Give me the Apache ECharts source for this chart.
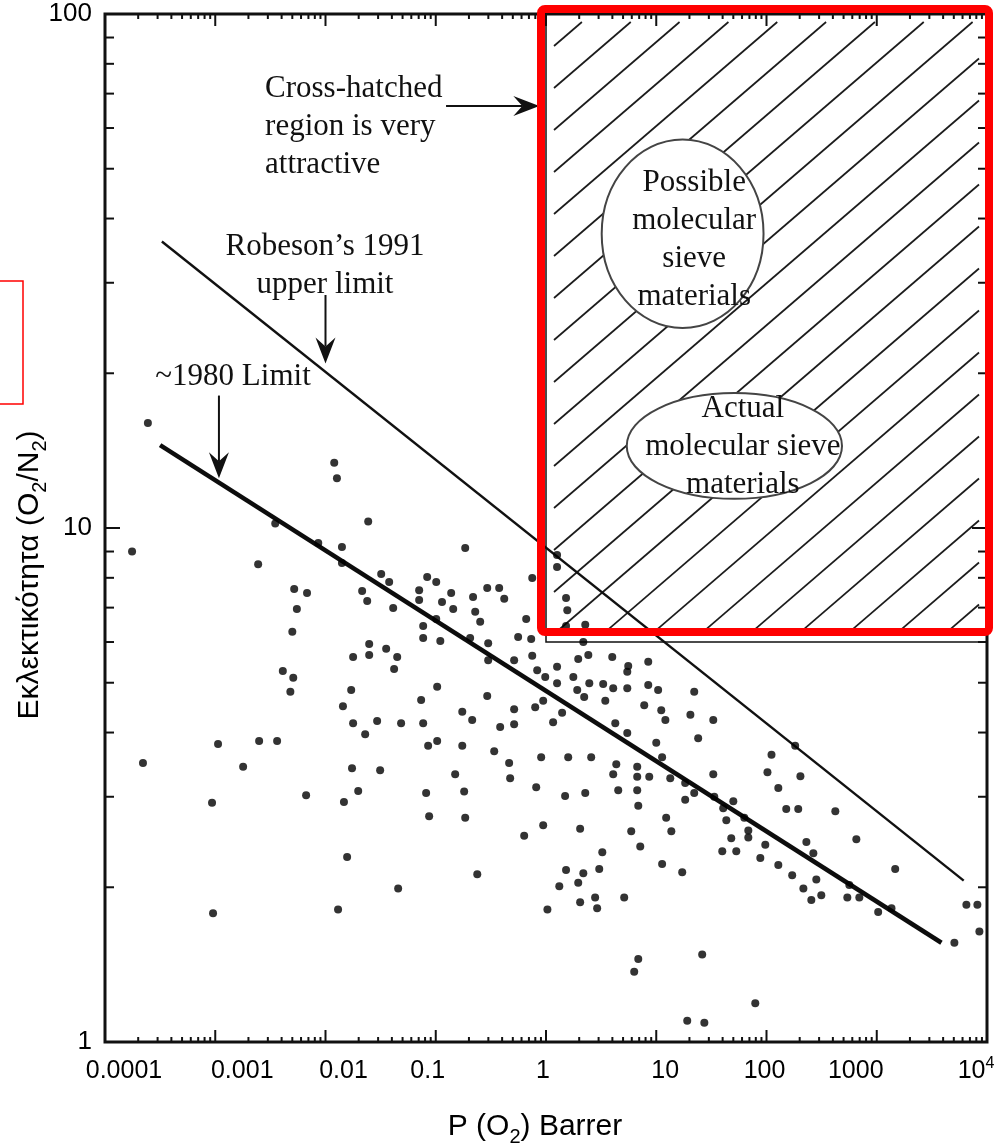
<!DOCTYPE html>
<html>
<head>
<meta charset="utf-8">
<script src="https://cdn.jsdelivr.net/npm/echarts@6/dist/echarts.min.js"></script>
<style>
  html, body { margin: 0; padding: 0; background: #fff; }
  #chart { width: 998px; height: 1147px; }
</style>
</head>
<body>
<div id="chart"></div>
<script>
// O2 permeability (Barrer) of each polymer
const permeability = [
  2.45e-4, 1.76e-4, 2.45e-3, 3.5e-3, 8.6e-3, 0.012, 0.0127, 0.0141, 0.0141, 5.2e-3,
  6.8e-3, 5.5e-3, 5.0e-3, 4.1e-3, 5.1e-3, 4.8e-3, 0.0244, 0.185, 0.032, 0.0378,
  0.0215, 0.0239, 0.0411, 0.0836, 0.101, 0.0707, 0.0707, 0.138, 0.114, 0.144,
  0.218, 0.228, 0.253, 0.293, 0.376, 0.418, 0.101, 0.0769, 0.0769, 0.110,
  0.205, 0.299, 0.299, 0.75, 0.661, 0.559, 0.734, 0.514, 0.75, 0.832,
  0.984, 1.26, 1.26, 1.26, 1.26, 1.52, 1.56, 1.52, 0.0249, 0.0249,
  0.0355, 0.0447, 0.0178, 0.0419, 0.0171, 0.103, 0.0737, 0.293, 0.0144, 0.514,
  0.798, 0.943, 1.40, 0.0178, 0.0294, 0.0485, 0.0229, 0.0769, 0.174, 0.214,
  0.514, 0.384, 1.16, 0.0853, 0.103, 0.174, 0.339, 0.904, 1.06e-3, 2.5e-3,
  3.64e-3, 2.21e-4, 1.79e-3, 0.0174, 0.0313, 9.35e-4, 6.67e-3, 0.0147, 0.0198, 0.0157,
  0.0456, 9.55e-4, 0.013, 0.463, 0.473, 1.59, 2.57, 4.34, 4.07, 4.52,
  6.72, 6.72, 6.72, 6.87, 0.150, 0.0818, 0.181, 0.0871, 0.185, 0.815,
  1.49, 2.27, 0.943, 0.634, 2.04, 5.93, 7.16, 3.24, 1.52, 2.18,
  3.04, 1.96, 1.32, 0.238, 2.04, 2.79, 2.91, 1.03, 5.12, 6.87,
  6.31, 2.27, 2.18, 1.96, 2.42, 3.99, 5.57, 5.46, 8.46, 1.77,
  1.92, 2.47, 2.22, 3.30, 4.07, 3.45, 5.46, 8.46, 10.4, 7.78,
  11.1, 12.1, 22.1, 20.4, 32.9, 24.0, 4.25, 5.46, 10.0, 11.3,
  8.64, 13.4, 18.3, 32.9, 22.1, 18.3, 33.6, 50, 40.5, 43.2,
  62.9, 68.4, 68.4, 47.9, 39.7, 53.2, 97.5, 87.9, 128, 111,
  102, 128, 12.3, 13.7, 11.3, 17.2, 26.1, 79.1, 19.1, 27.3,
  203, 151, 194, 421, 653, 1470, 230, 266, 171, 216,
  283, 314, 255, 564, 541, 695, 1030, 1360, 5060, 6500,
  8180, 8530, 182
];
// O2/N2 selectivity, same order
const selectivity = [
  16.0, 9.0, 8.5, 10.2, 9.35, 13.4, 12.5, 9.18, 8.55, 7.61,
  7.47, 6.96, 6.28, 5.27, 5.11, 4.80, 10.3, 9.14, 8.14, 7.85,
  7.54, 7.21, 6.99, 8.03, 7.85, 7.57, 7.24, 7.47, 7.18, 6.96,
  7.34, 6.87, 6.57, 7.64, 7.64, 7.28, 6.65, 6.45, 6.11, 6.03,
  6.11, 5.97, 5.53, 7.99, 6.65, 6.14, 6.08, 5.53, 5.64, 5.29,
  5.13, 5.37, 4.99, 8.86, 8.40, 7.31, 6.92, 6.45, 5.95, 5.66,
  5.82, 5.61, 5.61, 5.32, 4.84, 4.91, 4.63, 4.71, 4.50, 4.44,
  4.48, 4.61, 4.37, 4.17, 4.21, 4.17, 3.97, 4.17, 4.39, 4.23,
  4.15, 4.10, 4.19, 3.77, 3.85, 3.77, 3.68, 3.58, 3.80, 3.85,
  3.85, 3.49, 3.43, 3.41, 3.38, 2.92, 3.02, 2.93, 3.08, 2.29,
  1.99, 1.78, 1.81, 3.49, 3.26, 3.58, 3.58, 3.47, 3.32, 3.09,
  3.43, 3.28, 3.09, 2.88, 3.32, 3.05, 3.07, 2.75, 2.73, 3.13,
  3.01, 3.05, 2.64, 2.52, 2.60, 2.57, 2.40, 2.34, 2.16, 2.13,
  2.17, 2.04, 2.01, 2.12, 1.87, 1.91, 1.82, 1.81, 1.91, 1.45,
  1.37, 6.48, 6.00, 5.56, 5.66, 5.61, 5.39, 5.25, 5.49, 5.13,
  4.84, 4.99, 4.69, 4.97, 4.88, 4.61, 4.88, 4.95, 4.84, 4.52,
  4.42, 4.23, 4.80, 4.33, 4.23, 3.90, 4.17, 3.99, 3.82, 3.58,
  3.28, 3.26, 3.19, 3.32, 3.05, 2.96, 3.00, 2.94, 2.85, 2.70,
  2.73, 2.58, 2.50, 2.49, 2.35, 2.35, 2.42, 2.28, 2.21, 3.62,
  3.35, 3.12, 2.73, 2.57, 2.22, 2.14, 1.48, 1.19, 1.10, 1.09,
  3.29, 2.84, 2.84, 2.81, 2.48, 2.17, 2.45, 2.33, 2.11, 1.99,
  2.07, 1.93, 1.89, 2.02, 1.91, 1.91, 1.79, 1.82, 1.56, 1.85,
  1.85, 1.64, 3.77
];

// upper bound lines, [P, selectivity] end points
const limit1980 = [[3.16e-4, 14.5], [3860, 1.56]];
const robeson1991 = [[3.28e-4, 36.1], [6150, 2.06]];

// axis ticks
const xTicks = [1e-4, 1e-3, 0.01, 0.1, 1, 10, 100, 1000, 1e4];
const xTickLabels = ['0.0001', '0.001', '0.01', '0.1', '1', '10', '100', '1000', '10^4'];
const yTicks = [1, 10, 100];
const yTickLabels = ['1', '10', '100'];

// cross-hatched region (P, selectivity ranges)
const hatchP = [1, 1e4];
const hatchS = [6, 100];

// ellipses given by their P and selectivity ranges
const ellipseP = [[3.2, 94], [5.4, 484]];
const ellipseS = [[24.5, 57], [11.4, 18.3]];

// annotation texts and where they sit
const noteTexts = [
  'Cross-hatched\nregion is very\nattractive',
  'Robeson\u2019s 1991\nupper limit',
  '~1980 Limit',
  'Possible\nmolecular\nsieve\nmaterials',
  'Actual\nmolecular sieve\nmaterials'
];
const noteAt = [[2.83e-3, 60.3], [0.0099, 32.3], [1.45e-3, 19.7], [22.1, 36.3], [61, 14.4]];
const noteAlign = ['left', 'center', 'center', 'center', 'center'];

// arrows: from -> to
const arrows = [
  [[0.124, 66.2], [0.87, 66.2]],
  [[0.01, 28.4], [0.01, 20.9]],
  [[0.00108, 18.1], [0.00108, 12.5]]
];

// the x labels in the figure sit a little off their ticks (px, + = right)
const xLabelShift = [19, 27, 18, -8, -3, 9, -2, -21, -11];

const ink = '#111';
const serif = '"Liberation Serif", "Times New Roman", serif';
const sans = '"Liberation Sans", Arial, sans-serif';

let chart = echarts.init(document.getElementById('chart'));

function tickIndex(list, v) {
  return list.findIndex(t => Math.abs(Math.log10(t / v)) < 1e-6);
}

function arrowShape(a, b) {
  const dx = b[0] - a[0], dy = b[1] - a[1];
  const l = Math.sqrt(dx * dx + dy * dy);
  const ux = dx / l, uy = dy / l, px = -uy, py = ux;
  const len = 26, half = 10, notch = 9;
  const back = [b[0] - ux * len, b[1] - uy * len];
  const neck = [b[0] - ux * (len - notch), b[1] - uy * (len - notch)];
  return [
    { type: 'line', shape: { x1: a[0], y1: a[1], x2: neck[0], y2: neck[1] }, style: { stroke: ink, lineWidth: 2 } },
    {
      type: 'polygon',
      shape: { points: [b, [back[0] + px * half, back[1] + py * half], neck, [back[0] - px * half, back[1] - py * half]] },
      style: { fill: ink }
    }
  ];
}

const xLabelRich = {
  b: { fontSize: 25, fontFamily: sans, fill: '#000', lineHeight: 30 },
  sup: { fontSize: 16, fontFamily: sans, fill: '#000', lineHeight: 16, verticalAlign: 'top' }
};

// box ticks (decades long, 2..9 short) on all four sides, plus the x labels
function renderFrame(params, api) {
  const children = [];
  const bl = api.coord([xTicks[0], yTicks[0]]);
  const tr = api.coord([xTicks[xTicks.length - 1], yTicks[yTicks.length - 1]]);
  const tick = (x1, y1, x2, y2) => children.push({
    type: 'line', shape: { x1, y1, x2, y2 }, style: { stroke: ink, lineWidth: 2 }
  });
  xTicks.forEach((d, i) => {
    for (let m = 1; m <= 9; m++) {
      if (i === xTicks.length - 1 && m > 1) break;
      const x = api.coord([d * m, 1])[0];
      const len = m === 1 ? 12 : 5;
      tick(x, bl[1], x, bl[1] - len);
      tick(x, tr[1], x, tr[1] + len);
    }
    const s = xTickLabels[i];
    children.push({
      type: 'text',
      style: {
        text: s === '10^4' ? '{b|10}{sup|4}' : '{b|' + s + '}',
        x: api.coord([d, 1])[0] + xLabelShift[i], y: bl[1] + 14,
        align: 'center', verticalAlign: 'top', font: '25px ' + sans, fill: '#000',
        rich: xLabelRich
      }
    });
  });
  yTicks.forEach((d, i) => {
    for (let m = 1; m <= 9; m++) {
      if (i === yTicks.length - 1 && m > 1) break;
      const y = api.coord([1, d * m])[1];
      const len = m === 1 ? 15 : 9;
      tick(bl[0], y, bl[0] + len, y);
      tick(tr[0], y, tr[0] - len, y);
    }
  });
  return { type: 'group', children };
}

// hatched region with the two white ellipses on it
function renderHatch(params, api) {
  const children = [];
  const p0 = api.coord([hatchP[0], hatchS[1]]);
  const p1 = api.coord([hatchP[1], hatchS[0]]);
  const left = p0[0], top = p0[1], right = p1[0], bottom = p1[1];
  children.push({
    type: 'rect', shape: { x: left, y: top, width: right - left, height: bottom - top },
    style: { fill: 'none', stroke: ink, lineWidth: 1.5 }
  });
  const k = 0.86, inset = 8, step = 42;
  const L = left + inset, R = right - inset, T = top + inset, B = bottom - inset;
  for (let c = T + k * L + 24; c < B + k * R; c += step) {
    const x0 = Math.max(L, (c - B) / k);
    const x1 = Math.min(R, (c - T) / k);
    if (x1 - x0 < 6) continue;
    children.push({
      type: 'line', shape: { x1: x0, y1: c - k * x0, x2: x1, y2: c - k * x1 },
      style: { stroke: '#1c1c1c', lineWidth: 1.7 }
    });
  }
  ellipseP.forEach((pr, i) => {
    const a = api.coord([pr[0], ellipseS[i][1]]);
    const b = api.coord([pr[1], ellipseS[i][0]]);
    children.push({
      type: 'ellipse',
      shape: { cx: (a[0] + b[0]) / 2, cy: (a[1] + b[1]) / 2, rx: (b[0] - a[0]) / 2, ry: (b[1] - a[1]) / 2 },
      style: { fill: '#fff', stroke: '#444', lineWidth: 2 }
    });
  });
  return { type: 'group', children };
}

function renderNotes(params, api) {
  const children = [];
  noteTexts.forEach((t, i) => {
    const p = api.coord(noteAt[i]);
    children.push({
      type: 'text',
      style: {
        text: t, x: p[0], y: p[1], font: '31px ' + serif, fill: ink,
        align: noteAlign[i], verticalAlign: 'middle', lineHeight: 38
      }
    });
  });
  arrows.forEach(ar => {
    arrowShape(api.coord(ar[0]), api.coord(ar[1])).forEach(e => children.push(e));
  });
  return { type: 'group', children };
}

const subRich = {
  n: { fontFamily: sans, fontSize: 30, color: ink, lineHeight: 40 },
  s: { fontFamily: sans, fontSize: 20, color: ink, lineHeight: 20, verticalAlign: 'bottom' }
};

let option = {
  animation: false,
  backgroundColor: '#fff',
  grid: {
    left: 105, right: 11, top: 14, bottom: 105, containLabel: false, outerBoundsMode: 'none',
    show: true, borderColor: ink, borderWidth: 3
  },
  xAxis: {
    type: 'log', logBase: 10, min: 1e-4, max: 1e4, splitNumber: 8,
    axisLine: { show: false }, axisTick: { show: false }, splitLine: { show: false },
    axisLabel: { show: false }
  },
  yAxis: {
    type: 'log', logBase: 10, min: 1, max: 100, splitNumber: 2,
    axisLine: { show: false }, axisTick: { show: false }, splitLine: { show: false },
    axisLabel: {
      fontFamily: sans, fontSize: 26, color: '#000', margin: 13, interval: 0,
      showMinLabel: true, showMaxLabel: true,
      formatter: function (v) {
        const i = tickIndex(yTicks, v);
        return i >= 0 ? yTickLabels[i] : '';
      }
    }
  },
  series: [
    { type: 'custom', coordinateSystem: 'cartesian2d', data: [[1, 10]], silent: true, z: 1, renderItem: renderHatch },
    {
      type: 'line', data: robeson1991, symbol: 'none', silent: true, z: 3,
      lineStyle: { color: '#111', width: 2.4 }
    },
    {
      type: 'line', data: limit1980, symbol: 'none', silent: true, z: 3,
      lineStyle: { color: '#0d0d0d', width: 4.5 }
    },
    {
      type: 'scatter', symbol: 'circle', symbolSize: 8, z: 4,
      data: permeability.map((p, i) => [p, selectivity[i]]),
      itemStyle: { color: '#000' }
    },
    { type: 'custom', coordinateSystem: 'cartesian2d', data: [[1, 10]], silent: true, z: 5, renderItem: renderNotes },
    { type: 'custom', coordinateSystem: 'cartesian2d', data: [[1, 10]], silent: true, z: 6, clip: false, renderItem: renderFrame }
  ],
  graphic: [
    {
      type: 'text', x: 535, y: 1127, z: 10,
      style: { text: '{n|P (O}{s|2}{n|) Barrer}', rich: subRich, align: 'center', verticalAlign: 'middle' }
    },
    {
      type: 'text', x: 30, y: 575, rotation: Math.PI / 2, z: 10,
      style: {
        text: '{n|\u0395\u03ba\u03bb\u03b5\u03ba\u03c4\u03b9\u03ba\u03cc\u03c4\u03b7\u03c4\u03b1 (O}{s|2}{n|/N}{s|2}{n|)}',
        rich: subRich, align: 'center', verticalAlign: 'middle'
      }
    },
    // red highlight boxes drawn over the figure
    {
      type: 'rect', z: 100,
      shape: { x: 541, y: 9, width: 448, height: 623, r: 4 },
      style: { fill: 'none', stroke: '#ff0000', lineWidth: 8 }
    },
    {
      type: 'polyline', z: 100,
      shape: { points: [[-3, 281], [23, 281], [23, 404], [-3, 404]] },
      style: { fill: 'none', stroke: '#ff0000', lineWidth: 1.5 }
    }
  ]
};

chart.setOption(option);
</script>
</body>
</html>
